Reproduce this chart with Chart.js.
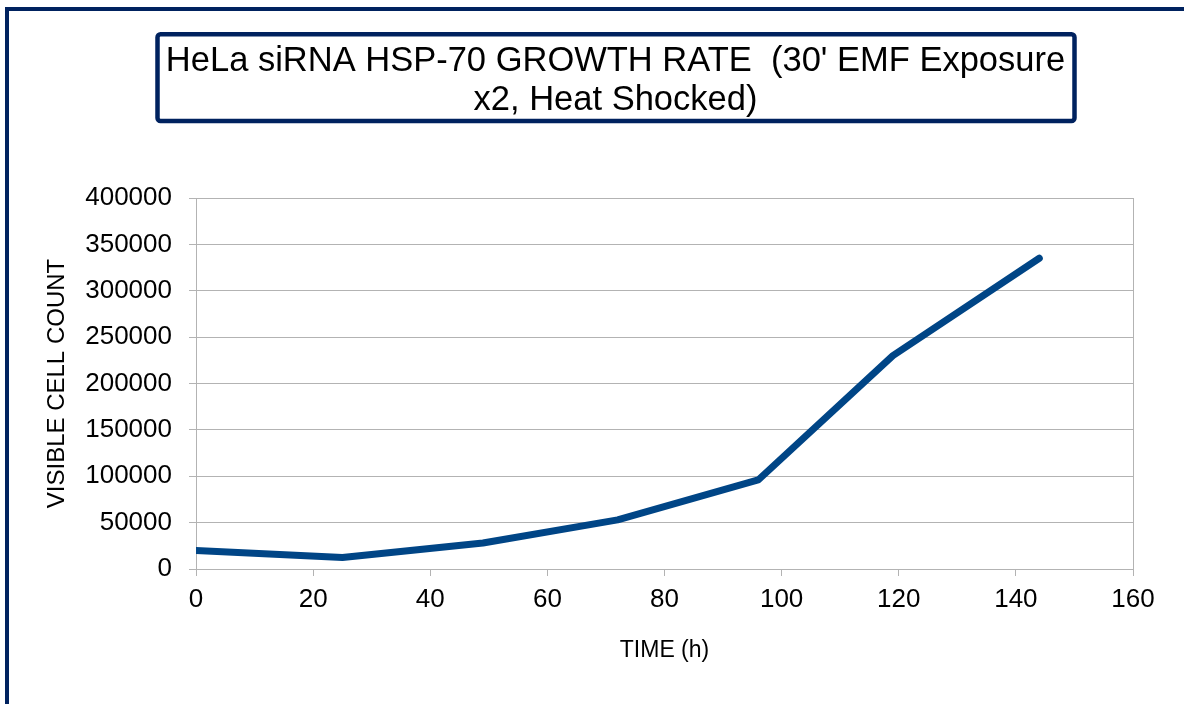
<!DOCTYPE html>
<html>
<head>
<meta charset="utf-8">
<script src="https://cdn.jsdelivr.net/npm/chart.js@4"></script>
<style>
  html, body { margin: 0; padding: 0; background: #ffffff; }
  canvas { display: block; }
</style>
</head>
<body>
<canvas id="c" width="1184" height="704"></canvas>
<script>
// ---- data ----
const timeHours = [0, 25, 49, 72, 96, 119, 144];
const cellCounts = [20000, 12500, 28000, 53000, 96000, 230000, 335000];
const xTickLabels = ['0', '20', '40', '60', '80', '100', '120', '140', '160'];
const yTickLabels = ['0', '50000', '100000', '150000', '200000', '250000', '300000', '350000', '400000'];
const titleLines = ["HeLa siRNA HSP-70 GROWTH RATE  (30' EMF Exposure", "x2, Heat Shocked)"];
const xAxisTitle = 'TIME (h)';
const yAxisTitle = 'VISIBLE CELL COUNT';

const NAVY = '#00225f';
const GRID = '#b3b3b3';
const LINE = '#004586';
const FONT = "'Liberation Sans', Arial, sans-serif";

const frame = {
  id: 'frame',
  beforeDraw(chart) {
    const ctx = chart.ctx;
    ctx.save();
    ctx.fillStyle = '#ffffff';
    ctx.fillRect(0, 0, chart.width, chart.height);
    ctx.restore();
  },
  afterDraw(chart) {
    const ctx = chart.ctx;
    ctx.save();
    // outer frame
    ctx.strokeStyle = NAVY;
    ctx.lineWidth = 4;
    ctx.strokeRect(7, 9, 1200, 720);
    // title box
    ctx.lineWidth = 4.5;
    ctx.lineJoin = 'round';
    ctx.beginPath();
    if (ctx.roundRect) ctx.roundRect(157.5, 34.3, 917, 86.7, 3);
    else ctx.rect(157.5, 34.3, 917, 86.7);
    ctx.stroke();
    // title text
    ctx.fillStyle = '#000000';
    ctx.font = '34.5px ' + FONT;
    ctx.textAlign = 'center';
    ctx.textBaseline = 'alphabetic';
    ctx.fillText(titleLines[0], 615.5, 71);
    ctx.fillText(titleLines[1], 615.5, 110);
    ctx.restore();
  }
};

new Chart(document.getElementById('c'), {
  type: 'line',
  data: {
    datasets: [{
      data: timeHours.map((t, i) => ({ x: t, y: cellCounts[i] })),
      borderColor: LINE,
      backgroundColor: LINE,
      borderWidth: 7,
      borderCapStyle: 'round',
      borderJoinStyle: 'round',
      pointRadius: 0,
      tension: 0,
      fill: false
    }]
  },
  options: {
    responsive: false,
    animation: false,
    devicePixelRatio: 1,
    layout: { padding: { left: 0, right: 51, top: 198, bottom: 0 } },
    plugins: { legend: { display: false }, title: { display: false }, tooltip: { enabled: false } },
    scales: {
      x: {
        type: 'linear',
        min: 0, max: 160,
        afterFit(s) { s.height = 135; },
        ticks: {
          stepSize: 20,
          color: '#000000',
          font: { family: FONT, size: 26 },
          padding: 8,
          maxRotation: 0,
          callback: (v, i) => xTickLabels[i]
        },
        grid: {
          color: (c) => (c.tick && c.tick.value === 160 ? GRID : 'rgba(0,0,0,0)'),
          tickColor: GRID,
          tickLength: 7,
          lineWidth: 1
        },
        border: { display: true, color: GRID, width: 1 },
        title: {
          display: true,
          text: xAxisTitle,
          color: '#000000',
          font: { family: FONT, size: 23 },
          padding: { top: 0, bottom: 40 }
        }
      },
      y: {
        type: 'linear',
        min: 0, max: 400000,
        afterFit(s) { s.width = 196; },
        ticks: {
          stepSize: 50000,
          color: '#000000',
          font: { family: FONT, size: 26 },
          padding: 17,
          callback: (v, i) => yTickLabels[i]
        },
        grid: {
          color: GRID,
          tickColor: GRID,
          tickLength: 7,
          lineWidth: 1
        },
        border: { display: true, color: GRID, width: 1 },
        title: {
          display: true,
          text: yAxisTitle,
          color: '#000000',
          font: { family: FONT, size: 24 },
          padding: { top: 43, bottom: 0 }
        }
      }
    }
  },
  plugins: [frame]
});
</script>
</body>
</html>
